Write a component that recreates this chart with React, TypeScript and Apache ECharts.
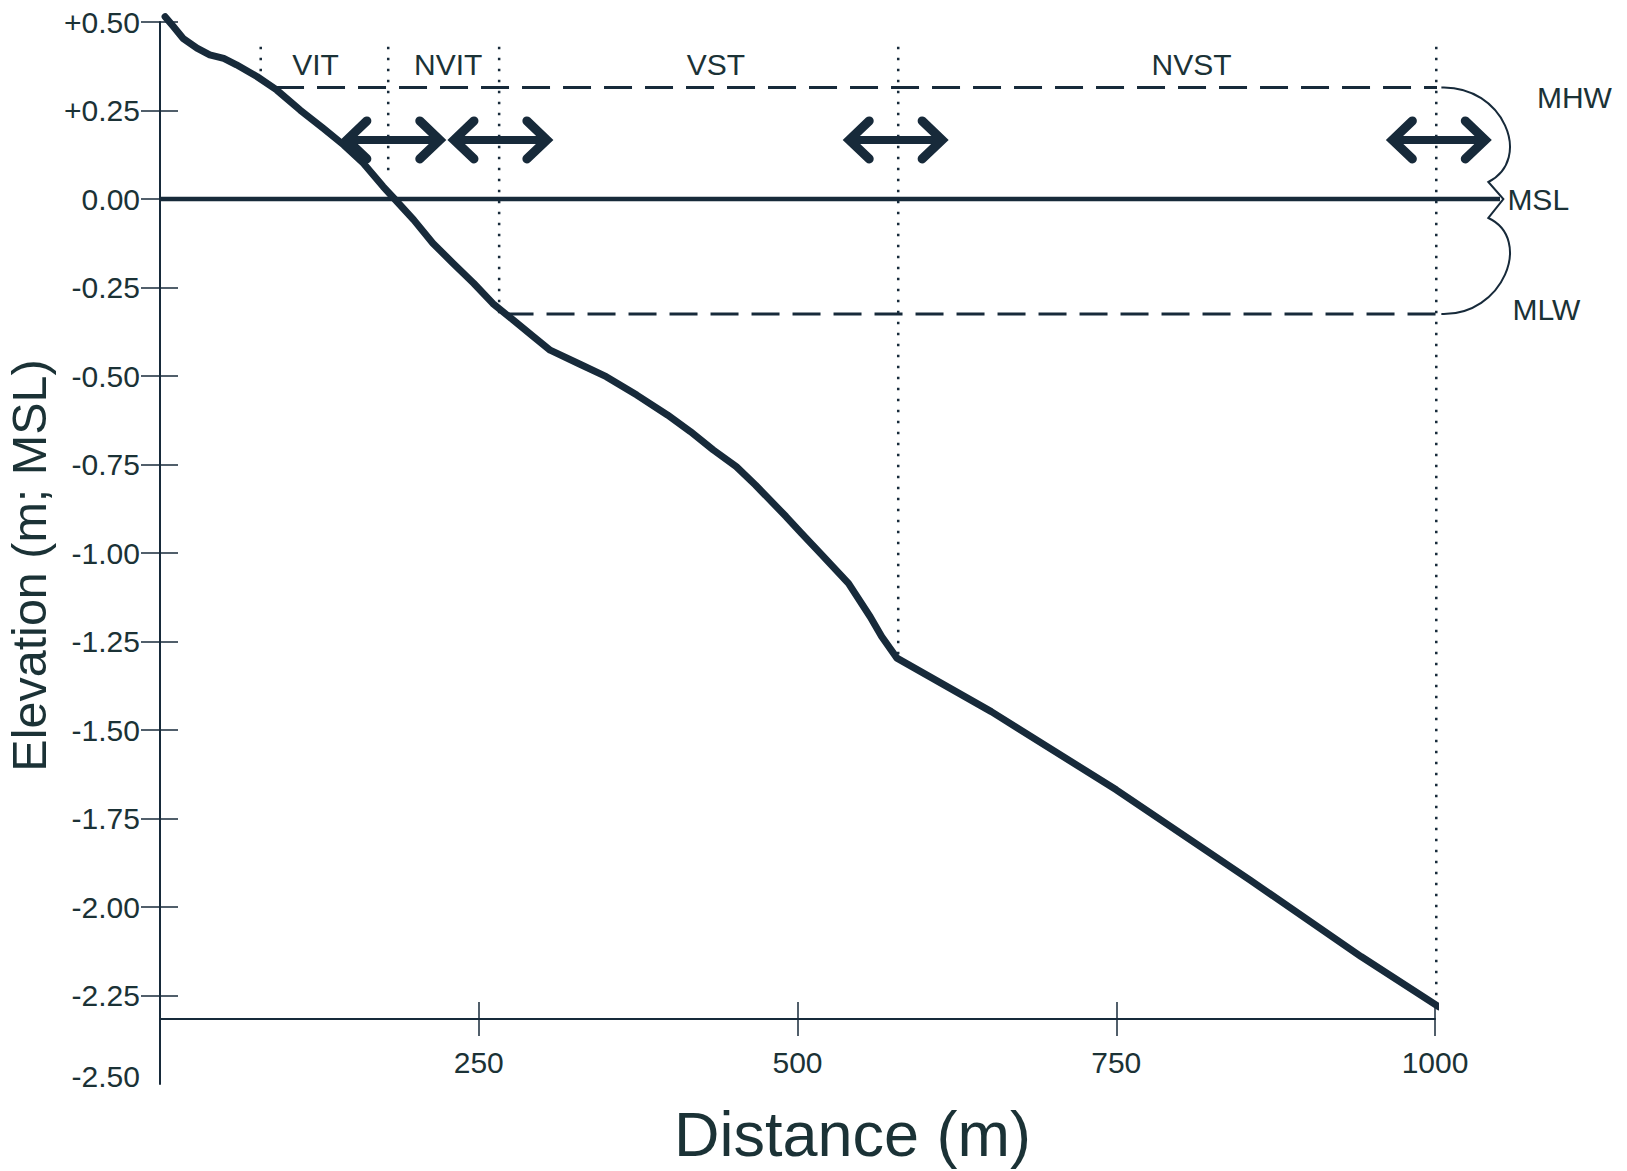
import React, { useEffect, useRef } from "react";
import * as echarts from "echarts";

// ---- data ----
const profileDistance = [4, 10.5, 18, 29, 39, 50, 60, 76, 91.5, 110, 128, 144, 159.5, 175, 184, 199, 214, 230, 246, 261, 277, 293, 306, 329, 350, 374, 398, 416, 434, 452, 467, 491, 503, 518, 540, 557, 566, 578, 652, 750, 855, 942, 1003];
const profileElevation = [0.515, 0.487, 0.454, 0.426, 0.407, 0.397, 0.379, 0.346, 0.308, 0.251, 0.2, 0.153, 0.101, 0.035, 0.0, -0.059, -0.125, -0.182, -0.238, -0.295, -0.342, -0.389, -0.427, -0.466, -0.502, -0.554, -0.61, -0.657, -0.709, -0.756, -0.808, -0.897, -0.944, -1.001, -1.086, -1.18, -1.236, -1.297, -1.448, -1.669, -1.924, -2.14, -2.282];

const zoneNames = ["VIT", "NVIT", "VST", "NVST"];
const zoneLabelDistance = [122, 226, 436, 809];
const zoneLabelElevation = 0.381;

const boundaryDistance = [79, 179, 266, 579, 1001];
const boundaryBottom = [0.36, 0.07, -0.33, -1.31, -2.28];
const boundaryTop = 0.43;

const arrowCenters = [183, 267, 577, 1003];
const arrowHalfSpan = 38;
const arrowElevation = 0.167;

const tideNames = ["MHW", "MSL", "MLW"];
const tideLevels = [0.315, 0, -0.325];
const mhwStart = 91;
const mlwStart = 271;
const tideLineEnd = 1005;
const mslEnd = 1051;

const xTickValues = [250, 500, 750, 1000];
const yTickValues = [0.5, 0.25, 0, -0.25, -0.5, -0.75, -1, -1.25, -1.5, -1.75, -2, -2.25];
const yLabelValues = [0.5, 0.25, 0, -0.25, -0.5, -0.75, -1, -1.25, -1.5, -1.75, -2, -2.25, -2.5];

const xAxisMin = 0;
const xAxisMax = 1000;
const yAxisMin = -2.5;
const yAxisMax = 0.5;
const axisOffsetPx = -65;

// ---- styles ----
const FONT = "'Liberation Sans', Arial, Helvetica, sans-serif";
const TEXT = "#1b3236";
const LINE = "#172a3a";

const fmtY = (v: number) => {
  if (Math.abs(v) < 1e-9) return "0.00";
  const s = (v > 0 ? "+" : "") + v.toFixed(2);
  return Math.abs(v - yAxisMin) < 1e-9 ? `{low|${s}}` : s;
};

export default function App() {
  const ref = useRef<HTMLDivElement>(null);

  useEffect(() => {
    if (!ref.current) return;
    const chart = echarts.init(ref.current, null, { renderer: "svg" });

    const profile = profileDistance.map((d, i) => [d, profileElevation[i]]);

    const option: any = {
      animation: false,
      backgroundColor: "#ffffff",
      textStyle: { fontFamily: FONT },
      grid: { left: 160, right: 192, top: 22, bottom: 87, containLabel: false, outerBoundsMode: "none" },
      xAxis: [
        {
          type: "value",
          min: xAxisMin,
          max: xAxisMax,
          interval: 250,
          position: "bottom",
          offset: axisOffsetPx,
          axisLine: { show: true, onZero: false, lineStyle: { color: LINE, width: 2 } },
          axisTick: { show: true, length: 17, customValues: xTickValues, lineStyle: { color: LINE, width: 1.5 } },
          axisLabel: {
            customValues: xTickValues,
            margin: 28,
            fontSize: 30,
            color: TEXT,
            fontFamily: FONT,
            formatter: (v: number) => (v === 0 ? "" : String(v)),
          },
          splitLine: { show: false },
          name: "Distance (m)",
          nameLocation: "middle",
          nameGap: 83,
          nameTextStyle: { fontSize: 63, color: TEXT, fontFamily: FONT, padding: [0, 0, 0, 110] },
        },
        {
          type: "value",
          min: xAxisMin,
          max: xAxisMax,
          interval: 250,
          position: "bottom",
          offset: axisOffsetPx,
          axisLine: { show: false, onZero: false },
          axisTick: { show: true, inside: true, length: 17, customValues: xTickValues, lineStyle: { color: LINE, width: 1.5 } },
          axisLabel: { show: false },
          splitLine: { show: false },
        },
      ],
      yAxis: [
        {
          type: "value",
          min: yAxisMin,
          max: yAxisMax,
          interval: 0.25,
          position: "left",
          axisLine: { show: true, onZero: false, lineStyle: { color: LINE, width: 2 } },
          axisTick: { show: true, length: 19, customValues: yTickValues, lineStyle: { color: LINE, width: 1.5 } },
          axisLabel: {
            customValues: yLabelValues,
            margin: 20,
            fontSize: 30,
            color: TEXT,
            fontFamily: FONT,
            formatter: fmtY,
            rich: {
              low: { fontSize: 30, color: TEXT, fontFamily: FONT, padding: [0, 0, 16, 0] },
            },
          },
          splitLine: { show: false },
          name: "Elevation (m; MSL)",
          nameLocation: "middle",
          nameGap: 100,
          nameRotate: 90,
          nameTextStyle: { fontSize: 48.5, color: TEXT, fontFamily: FONT, padding: [0, 25, 0, 0] },
        },
        {
          type: "value",
          min: yAxisMin,
          max: yAxisMax,
          interval: 0.25,
          position: "left",
          axisLine: { show: false, onZero: false },
          axisTick: { show: true, inside: true, length: 18, customValues: yTickValues, lineStyle: { color: LINE, width: 1.5 } },
          axisLabel: { show: false },
          splitLine: { show: false },
        },
      ],
      series: [
        {
          name: "MSL",
          type: "custom",
          data: [[0, mslEnd, tideLevels[1]]],
          encode: { x: [0, 1], y: 2 },
          renderItem: (params: any, api: any) => {
            const a = api.coord([api.value(0), api.value(2)]);
            const b = api.coord([api.value(1), api.value(2)]);
            return {
              type: "line",
              shape: { x1: a[0], y1: a[1], x2: b[0], y2: b[1] },
              style: { stroke: LINE, lineWidth: 4.5 },
            };
          },
          z: 3,
        },
        {
          name: "MHW",
          type: "line",
          data: [[mhwStart, tideLevels[0]], [tideLineEnd, tideLevels[0]]],
          symbol: "none",
          clip: false,
          lineStyle: { color: LINE, width: 3, type: [28, 13] },
          z: 3,
        },
        {
          name: "MLW",
          type: "line",
          data: [[mlwStart, tideLevels[2]], [tideLineEnd, tideLevels[2]]],
          symbol: "none",
          clip: false,
          lineStyle: { color: LINE, width: 3, type: [28, 13] },
          z: 3,
        },
        {
          name: "boundaries",
          type: "custom",
          data: boundaryDistance.map((d, i) => [d, boundaryTop, boundaryBottom[i]]),
          encode: { x: 0, y: [1, 2] },
          renderItem: (params: any, api: any) => {
            const a = api.coord([api.value(0), api.value(1)]);
            const b = api.coord([api.value(0), api.value(2)]);
            return {
              type: "line",
              shape: { x1: a[0], y1: a[1], x2: b[0], y2: b[1] },
              style: { stroke: LINE, lineWidth: 2.5, lineDash: [2.5, 8.5] },
            };
          },
          z: 2,
        },
        {
          name: "profile",
          type: "line",
          data: profile,
          symbol: "none",
          clip: false,
          lineStyle: { color: LINE, width: 7, cap: "round", join: "round" },
          z: 5,
        },
        {
          name: "zones",
          type: "custom",
          data: zoneNames.map((n, i) => [zoneLabelDistance[i], zoneLabelElevation, n]),
          encode: { x: 0, y: 1 },
          renderItem: (params: any, api: any) => {
            const p = api.coord([api.value(0), api.value(1)]);
            return {
              type: "text",
              x: p[0],
              y: p[1],
              style: {
                text: zoneNames[params.dataIndex],
                fontSize: 30,
                fontFamily: FONT,
                fill: TEXT,
                align: "center",
                verticalAlign: "middle",
              },
            };
          },
          z: 6,
        },
        {
          name: "arrows",
          type: "custom",
          data: arrowCenters.map((c) => [c - arrowHalfSpan, c + arrowHalfSpan, arrowElevation]),
          encode: { x: [0, 1], y: 2 },
          renderItem: (params: any, api: any) => {
            const l = api.coord([api.value(0), api.value(2)]);
            const r = api.coord([api.value(1), api.value(2)]);
            const y = l[1];
            const hx = 22;
            const hy = 19;
            const st = { stroke: LINE, lineWidth: 9, fill: "none", lineCap: "round", lineJoin: "miter" };
            return {
              type: "group",
              children: [
                { type: "line", shape: { x1: l[0] + 3, y1: y, x2: r[0] - 3, y2: y }, style: { stroke: LINE, lineWidth: 8 } },
                { type: "polyline", shape: { points: [[l[0] + hx, y - hy], [l[0] + 2, y], [l[0] + hx, y + hy]] }, style: st },
                { type: "polyline", shape: { points: [[r[0] - hx, y - hy], [r[0] - 2, y], [r[0] - hx, y + hy]] }, style: st },
              ],
            };
          },
          z: 7,
        },
        {
          name: "brace",
          type: "custom",
          data: [[tideLineEnd, tideLevels[0], tideLevels[1], tideLevels[2]]],
          encode: { x: 0, y: [1, 2, 3] },
          renderItem: (params: any, api: any) => {
            const t = api.coord([api.value(0), api.value(1)]);
            const m = api.coord([api.value(0), api.value(2)]);
            const b = api.coord([api.value(0), api.value(3)]);
            const X = t[0];
            const yT = t[1];
            const yM = m[1];
            const yB = b[1];
            const d =
              `M ${X} ${yT} ` +
              `C ${X + 62} ${yT - 2} ${X + 92} ${yM - 40} ${X + 47} ${yM - 17} ` +
              `L ${X + 62} ${yM} ` +
              `L ${X + 47} ${yM + 19} ` +
              `C ${X + 92} ${yM + 40} ${X + 62} ${yB + 2} ${X} ${yB}`;
            return {
              type: "group",
              children: [
                { type: "path", shape: { pathData: d }, style: { stroke: LINE, lineWidth: 2, fill: "none" } },
                {
                  type: "text",
                  x: X + 133,
                  y: yT + 10,
                  style: { text: tideNames[0], fontSize: 30, fontFamily: FONT, fill: TEXT, align: "center", verticalAlign: "middle" },
                },
                {
                  type: "text",
                  x: X + 66,
                  y: yM,
                  style: { text: tideNames[1], fontSize: 30, fontFamily: FONT, fill: TEXT, align: "left", verticalAlign: "middle" },
                },
                {
                  type: "text",
                  x: X + 105,
                  y: yB - 5,
                  style: { text: tideNames[2], fontSize: 30, fontFamily: FONT, fill: TEXT, align: "center", verticalAlign: "middle" },
                },
              ],
            };
          },
          z: 6,
        },
      ],
    };

    chart.setOption(option);
    return () => chart.dispose();
  }, []);

  return (
    <div
      ref={ref}
      style={{ position: "absolute", left: 0, top: 0, width: 1627, height: 1171, background: "#fff" }}
    />
  );
}
